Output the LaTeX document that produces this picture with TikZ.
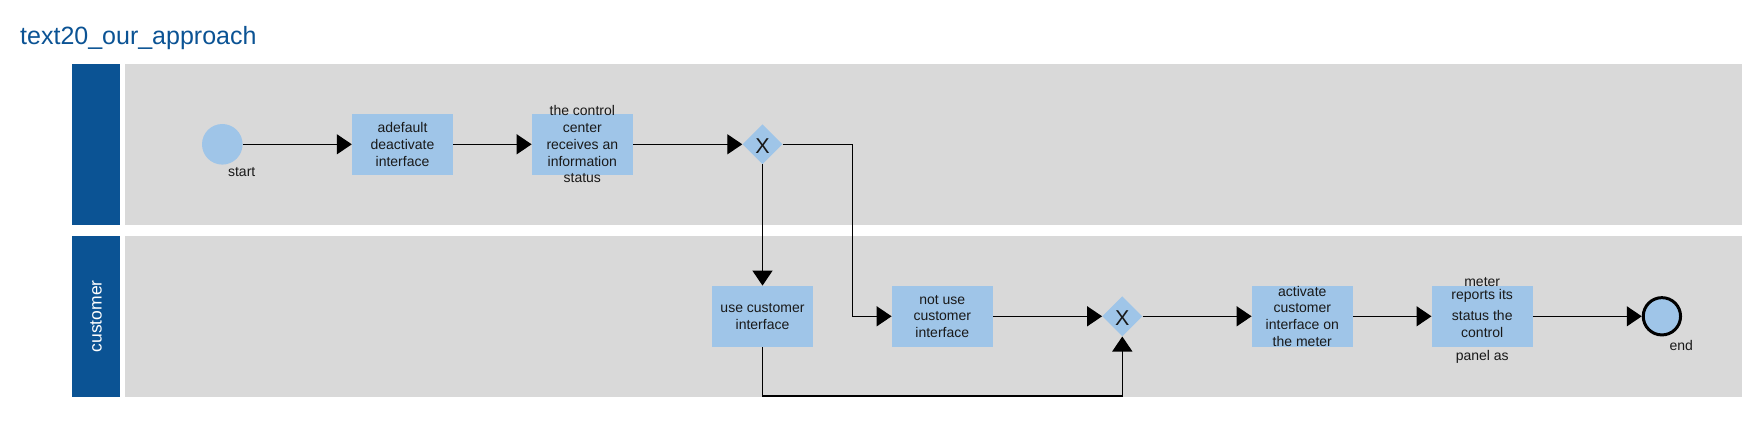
\documentclass[tikz,border=0pt]{standalone}
\usepackage{fontspec}
\setmainfont{Liberation Sans}
\usetikzlibrary{arrows.meta,shapes.geometric}
\definecolor{hdr}{HTML}{0B5394}
\definecolor{lanebg}{HTML}{D9D9D9}
\definecolor{taskfill}{HTML}{9FC5E8}
\begin{document}
\begin{tikzpicture}[x=1pt,y=-1pt,
  task/.style={rectangle, fill=taskfill, minimum width=101pt, minimum height=61pt, inner sep=0pt},
  tt/.style={align=center, font=\fontsize{14}{16.7}\selectfont, text=black!90},
  flow/.style={line width=1.3pt, -{Triangle[length=15pt,width=20pt]}},
  gateway/.style={diamond, fill=taskfill, minimum width=40pt, minimum height=40pt, inner sep=0pt},
  gx/.style={font=\fontsize{21.5}{21.5}\selectfont, text=black!90, yshift=-2pt},
  evlabel/.style={font=\fontsize{14}{14}\selectfont, text=black!90}]
\useasboundingbox (0,0) rectangle (1759,438);
\fill[white] (0,0) rectangle (1759,438);
\node[anchor=base west, text=hdr, font=\fontsize{25}{25}\selectfont, inner sep=0pt] (title) at (20,45) {text20\_our\_approach};
% lanes
\fill[hdr] (72,64) rectangle (120,225);
\fill[lanebg] (125,64) rectangle (1741.5,225);
\fill[hdr] (72,236) rectangle (120,397);
\fill[lanebg] (125,236) rectangle (1741.5,397);
\node[rotate=90, text=white, font=\fontsize{17.5}{17.5}\selectfont] (custlbl) at (96,316.3) {customer};
% lane 1
\node[circle, fill=taskfill, minimum size=40.6pt, inner sep=0pt] (start) at (222.3,144.3) {};
\node[evlabel] (startlbl) at (241.7,172) {start};
\node[task, label={[tt]center:adefault\\deactivate\\interface}] (t1) at (402.5,144.3) {};
\node[task, label={[tt]center:the control\\center\\receives an\\information\\status}] (t2) at (582.3,144.3) {};
\node[gateway, label={[gx]center:X}] (gw1) at (762.5,144.3) {};
% lane 2
\node[task, label={[tt]center:use customer\\interface}] (t3) at (762.5,316.3) {};
\node[task, label={[tt]center:not use\\customer\\interface}] (t4) at (942.3,316.3) {};
\node[gateway, label={[gx]center:X}] (gw2) at (1122.3,316.3) {};
\node[task, label={[tt]center:activate\\customer\\interface on\\the meter}] (t5) at (1302.3,316.3) {};
\node[task, label={[tt,yshift=-4pt]center:meter\\[-3.3pt]reports its\\[4.2pt]status the\\control\\[6.2pt]panel as}] (t6) at (1482.2,316.3) {};
\node[circle, fill=taskfill, draw=black, line width=3pt, minimum size=37.3pt, inner sep=0pt] (endev) at (1661.9,316.3) {};
\node[evlabel] (endlbl) at (1681.3,345) {end};
% flows
\coordinate (bend1) at (852.3,144.3);
\coordinate (bend2) at (762.5,396);
\draw[flow] (start) -- (t1);
\draw[flow] (t1) -- (t2);
\draw[flow] (t2) -- (gw1);
\draw[flow] (gw1) -- (t3);
\draw[flow] (gw1.east) -- (bend1) |- (t4.west);
\draw[flow] (t4) -- (gw2);
\draw[flow] (t3.south) -- (bend2) -| (gw2.south);
\draw[flow] (gw2) -- (t5);
\draw[flow] (t5) -- (t6);
\draw[flow] (t6) -- (endev);
\end{tikzpicture}
\end{document}
